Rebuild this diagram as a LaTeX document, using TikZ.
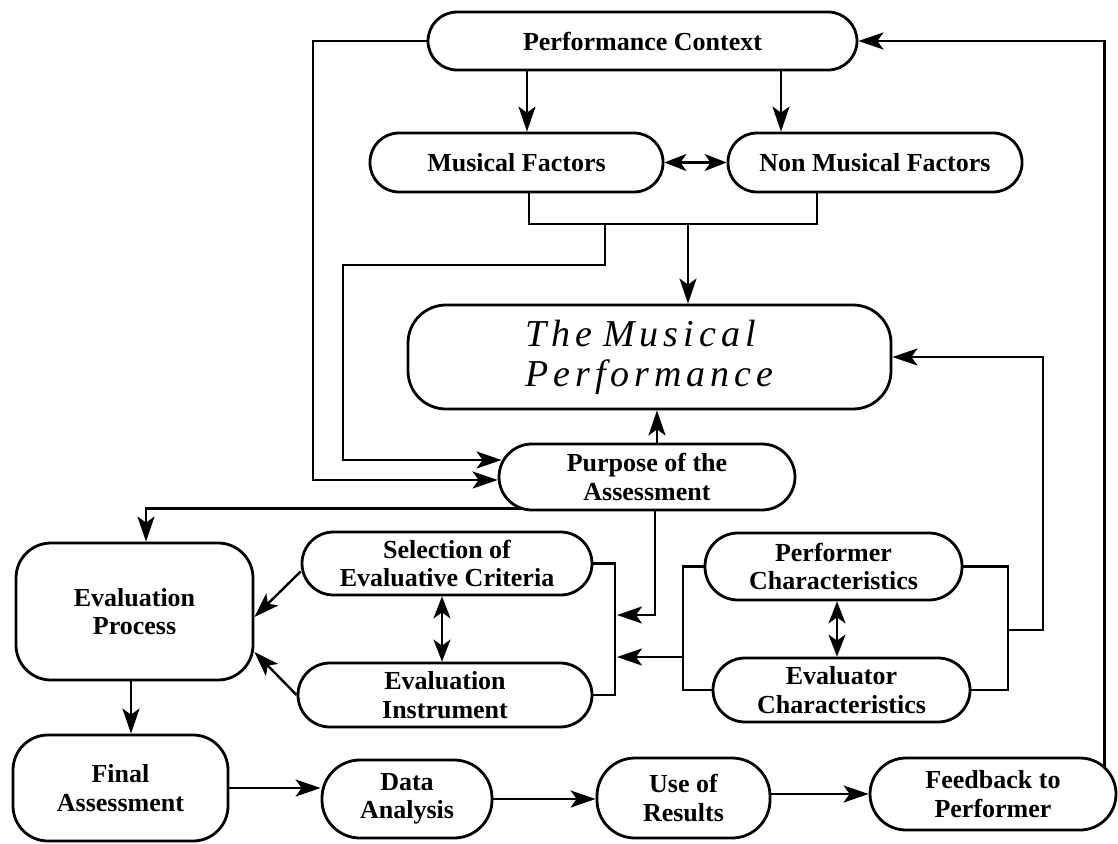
\documentclass[tikz,border=0pt]{standalone}
\usepackage{fontspec}
\setmainfont{Liberation Serif}
\usetikzlibrary{arrows.meta,backgrounds}
\newcommand{\lsp}{\kern5pt}
\begin{document}
\begin{tikzpicture}[x=1pt,y=-1pt,
  box/.style={draw, line width=2.8pt, fill=white, align=center, inner sep=0pt,
    font={\fontsize{26}{28.5}\selectfont\bfseries}},
  con/.style={line width=2.4pt},
  arr/.style={con, -{Stealth[length=25pt,width=17pt,inset=6pt]}},
  dbl/.style={con, {Stealth[length=22pt,width=17pt,inset=6pt]}-{Stealth[length=22pt,width=17pt,inset=6pt]}},
]
\useasboundingbox (0,0) rectangle (1118,843);

\node[box, minimum width=429pt, minimum height=58pt, rounded corners=29pt] (pc) at (642.5,41) {Performance Context};
\node[box, minimum width=293pt, minimum height=59pt, rounded corners=29pt] (mf) at (516.5,162.5) {Musical Factors};
\node[box, minimum width=294pt, minimum height=59pt, rounded corners=29pt] (nmf) at (875,162.5) {Non Musical Factors};
\node[box, minimum width=483pt, minimum height=104pt, rounded corners=38pt, align=left,
  font={\fontsize{38}{40}\selectfont\itshape}] (mp) at (649.5,357)
  {T\lsp h\lsp e\kern11pt M\lsp u\lsp s\lsp i\lsp c\lsp a\lsp l\\P\lsp e\lsp r\lsp f\lsp o\lsp r\lsp m\lsp a\lsp n\lsp c\lsp e};
\node[box, minimum width=296pt, minimum height=66pt, rounded corners=33pt] (pa) at (647,477) {Purpose of the\\Assessment};
\node[box, minimum width=237pt, minimum height=137pt, rounded corners=35pt] (ep) at (134.5,611.5) {Evaluation\\Process};
\node[box, minimum width=290pt, minimum height=63pt, rounded corners=31.5pt] (sec) at (447,563.5) {Selection of\\Evaluative Criteria};
\node[box, minimum width=294pt, minimum height=64pt, rounded corners=32pt] (ei) at (445,695) {Evaluation\\Instrument};
\node[box, minimum width=257pt, minimum height=67pt, rounded corners=33pt] (pch) at (833.5,566.5) {Performer\\Characteristics};
\node[box, minimum width=257pt, minimum height=64pt, rounded corners=32pt] (ech) at (841.5,690) {Evaluator\\Characteristics};
\node[box, minimum width=215pt, minimum height=106pt, rounded corners=35pt] (fa) at (120.5,788) {Final\\Assessment};
\node[box, minimum width=170pt, minimum height=78pt, rounded corners=38pt] (da) at (407,799) {Data\\Analysis};
\node[box, minimum width=173pt, minimum height=80pt, rounded corners=38pt] (ur) at (683.5,798) {Use of\\Results};
\node[box, minimum width=246pt, minimum height=72pt, rounded corners=36pt] (fb) at (993,794) {Feedback to\\Performer};

\begin{scope}[on background layer]
\draw[arr] (527,0 |- pc.south) -- (527,0 |- mf.north);
\draw[arr] (781,0 |- pc.south) -- (781,0 |- nmf.north);
\draw[dbl] (mf.east) -- (nmf.west);
\draw[con] (529,0 |- mf.south) -- (529,224) -- (817,224) -- (817,0 |- nmf.south);
\coordinate (j1) at (688,224);
\coordinate (j2) at (605,224);
\draw[arr] (j1) -- (j1 |- mp.north);
\draw[arr] (j2) -- (605,265) -- (343,265) -- (343,460) -- ([xshift=4pt,yshift=17pt]pa.west);
\draw[arr] (pc.west) -- (313,0 |- pc.west) -- (313,480) -- ([yshift=-3pt]pa.west);
\draw[arr] (657,0 |- pa.north) -- (657,0 |- mp.south);
\draw[arr] ([xshift=30pt,yshift=3pt]pa.south west) -| (146,0 |- ep.north);
\draw[con] (sec.east) -- (615,0 |- sec.east) -- (615,0 |- ei.east) -- (ei.east);
\draw[arr] (655,0 |- pa.south) -- (655,615) -- (617,615);
\draw[con] (pch.west) -- (683,0 |- pch.west) -- (683,0 |- ech.west) -- (ech.west);
\draw[arr] (683,657) -- (617,657);
\draw[dbl] (442,0 |- sec.south) -- (442,0 |- ei.north);
\draw[dbl] (837,0 |- pch.south) -- (837,0 |- ech.north);
\draw[con] (pch.east) -- (1008,0 |- pch.east) -- (1008,0 |- ech.east) -- (ech.east);
\draw[arr] (1008,630) -- (1043,630) |- (mp.east);
\draw[arr] ([yshift=-8pt]sec.west) -- ([yshift=-5.5pt]ep.east);
\draw[arr] (ei.west) -- ([yshift=-40.5pt]ep.east);
\draw[arr] (131,0 |- ep.south) -- (131,0 |- fa.north);
\draw[arr] (fa.east) -- (fa.east -| da.west);
\draw[arr] (da.east) -- (da.east -| ur.west);
\draw[arr] ([yshift=4pt]ur.east) -- ([yshift=4pt]ur.east -| fb.west);
\draw[arr] ([xshift=-13pt,yshift=-12pt]fb.north east) |- (pc.east);
\end{scope}
\end{tikzpicture}
\end{document}
